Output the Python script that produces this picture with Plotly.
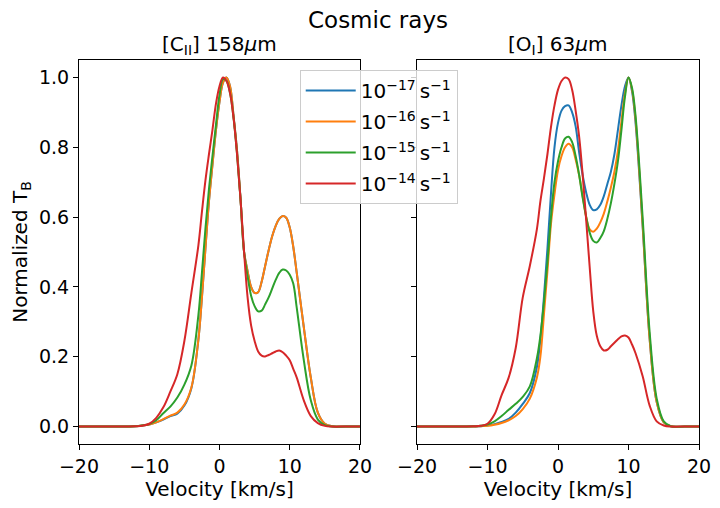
import plotly.graph_objects as go

# velocity grid (km/s)
velocity = [-20, -16, -14, -12, -11, -10, -9, -8, -7, -6, -5, -4,
            -3, -2.5, -2, -1.5, -1, -0.5, 0, 0.5, 1, 1.5, 2, 2.5, 3, 3.5, 4, 4.5, 5, 5.5,
            6, 6.5, 7, 7.5, 8, 8.5, 9, 9.5, 10, 10.5, 11,
            12, 13, 14, 15, 16, 18, 20]

labels = ["10<sup>−17</sup>\u2009s<sup>−1</sup>", "10<sup>−16</sup>\u2009s<sup>−1</sup>",
          "10<sup>−15</sup>\u2009s<sup>−1</sup>", "10<sup>−14</sup>\u2009s<sup>−1</sup>"]
colors = ["#1f77b4", "#ff7f0e", "#2ca02c", "#d62728"]

# [CII] 158um normalized profiles
cii_17 = [0, 0, 0, 0.001, 0.003, 0.006, 0.012, 0.02, 0.03, 0.037, 0.06, 0.11,
          0.25, 0.37, 0.51, 0.645, 0.75, 0.85, 0.93, 0.985, 1.0, 0.975, 0.89, 0.79, 0.65, 0.50,
          0.445, 0.40, 0.383, 0.385, 0.415, 0.46, 0.505, 0.545, 0.575, 0.595, 0.603, 0.598,
          0.57, 0.515, 0.44, 0.285, 0.14, 0.04, 0.008, 0.001, 0, 0]
cii_16 = [0, 0, 0, 0.001, 0.003, 0.006, 0.012, 0.021, 0.031, 0.04, 0.063, 0.112,
          0.25, 0.37, 0.51, 0.645, 0.75, 0.85, 0.93, 0.985, 1.0, 0.975, 0.89, 0.79, 0.65, 0.50,
          0.445, 0.40, 0.383, 0.385, 0.415, 0.46, 0.505, 0.545, 0.575, 0.595, 0.603, 0.598,
          0.57, 0.515, 0.44, 0.285, 0.14, 0.04, 0.008, 0.001, 0, 0]
cii_15 = [0, 0, 0, 0.001, 0.003, 0.007, 0.018, 0.038, 0.057, 0.083, 0.12, 0.175,
          0.32, 0.44, 0.567, 0.68, 0.775, 0.865, 0.95, 0.995, 0.99, 0.955, 0.885, 0.78, 0.65, 0.50,
          0.43, 0.375, 0.345, 0.33, 0.332, 0.35, 0.37, 0.395, 0.42, 0.44, 0.45, 0.447,
          0.435, 0.41, 0.34, 0.19, 0.075, 0.02, 0.004, 0, 0, 0]
cii_14 = [0, 0, 0, 0.001, 0.002, 0.008, 0.025, 0.055, 0.10, 0.15, 0.245, 0.383,
          0.52, 0.615, 0.705, 0.78, 0.85, 0.925, 0.975, 1.0, 0.99, 0.955, 0.885, 0.78, 0.65, 0.50,
          0.37, 0.29, 0.245, 0.215, 0.203, 0.201, 0.205, 0.21, 0.215, 0.218, 0.213, 0.203,
          0.19, 0.165, 0.14, 0.075, 0.03, 0.01, 0.002, 0, 0, 0]

# [OI] 63um normalized profiles
oi_17 = [0, 0, 0, 0, 0.001, 0.003, 0.007, 0.013, 0.022, 0.04, 0.065, 0.096,
         0.17, 0.25, 0.37, 0.51, 0.667, 0.80, 0.87, 0.905, 0.918, 0.92, 0.90, 0.86, 0.785, 0.72,
         0.67, 0.635, 0.62, 0.622, 0.635, 0.66, 0.695, 0.73, 0.78, 0.85, 0.92, 0.975,
         1.0, 0.96, 0.87, 0.575, 0.25, 0.07, 0.012, 0.001, 0, 0]
oi_16 = [0, 0, 0, 0, 0.001, 0.002, 0.005, 0.01, 0.018, 0.03, 0.05, 0.08,
         0.14, 0.20, 0.32, 0.445, 0.58, 0.665, 0.735, 0.775, 0.80, 0.81, 0.80, 0.765, 0.72, 0.66,
         0.60, 0.565, 0.558, 0.567, 0.585, 0.61, 0.645, 0.685, 0.73, 0.79, 0.875, 0.955,
         1.0, 0.965, 0.88, 0.58, 0.25, 0.07, 0.012, 0.001, 0, 0]
oi_15 = [0, 0, 0, 0.001, 0.002, 0.006, 0.015, 0.03, 0.048, 0.065, 0.085, 0.115,
         0.195, 0.26, 0.355, 0.47, 0.60, 0.70, 0.76, 0.80, 0.825, 0.83, 0.815, 0.775, 0.72, 0.655,
         0.60, 0.555, 0.532, 0.527, 0.54, 0.56, 0.595, 0.64, 0.695, 0.76, 0.85, 0.945,
         1.0, 0.97, 0.89, 0.60, 0.27, 0.08, 0.015, 0.001, 0, 0]
oi_14 = [0, 0, 0, 0.001, 0.002, 0.008, 0.035, 0.09, 0.14, 0.225, 0.37, 0.46,
         0.565, 0.645, 0.71, 0.78, 0.858, 0.92, 0.965, 0.99, 1.0, 0.995, 0.965, 0.905, 0.83, 0.72,
         0.59, 0.455, 0.33, 0.26, 0.23, 0.218, 0.22, 0.23, 0.24, 0.25, 0.258, 0.261,
         0.255, 0.235, 0.21, 0.145, 0.06, 0.015, 0.003, 0, 0, 0]

cii = [cii_17, cii_16, cii_15, cii_14]
oi = [oi_17, oi_16, oi_15, oi_14]

font = "DejaVu Sans"
fig = go.Figure()

for i in range(4):
    fig.add_trace(go.Scatter(x=velocity, y=cii[i], mode="lines", name=labels[i],
                             line=dict(color=colors[i], width=2, shape="spline", smoothing=1.0),
                             legendgroup=str(i), xaxis="x", yaxis="y"))
for i in range(4):
    fig.add_trace(go.Scatter(x=velocity, y=oi[i], mode="lines", name=labels[i],
                             line=dict(color=colors[i], width=2, shape="spline", smoothing=1.0),
                             legendgroup=str(i), showlegend=False, xaxis="x2", yaxis="y2"))

axis_style = dict(showline=True, linecolor="black", linewidth=1, mirror=True, ticks="outside",
                  ticklen=5, tickcolor="black", showgrid=False, zeroline=False, automargin=False,
                  tickfont=dict(size=19, color="black"))

# plot area: left panel 79-360 px, right panel 417-699 px, top 60, bottom 444
# (page body adds an 8px offset, so margins are shifted by 8)
fig.update_layout(
    width=720, height=508,
    margin=dict(l=71, r=29, t=52, b=72, autoexpand=False),
    plot_bgcolor="white", paper_bgcolor="white",
    font=dict(family=font, color="black"),
    xaxis=dict(domain=[0, 0.4532], range=[-20, 20], tickvals=[-20, -10, 0, 10, 20],
               title=dict(text="Velocity [km/s]", font=dict(size=20), standoff=6), anchor="y", **axis_style),
    yaxis=dict(domain=[0, 1], range=[-0.05, 1.05], tickvals=[0, 0.2, 0.4, 0.6, 0.8, 1.0],
               tickformat=".1f", title=dict(text="Normalized T<sub>B</sub>", font=dict(size=20), standoff=10),
               anchor="x", **axis_style),
    xaxis2=dict(domain=[0.5452, 1], range=[-20, 20], tickvals=[-20, -10, 0, 10, 20],
                title=dict(text="Velocity [km/s]", font=dict(size=20), standoff=6), anchor="y2", **axis_style),
    yaxis2=dict(domain=[0, 1], range=[-0.05, 1.05], tickvals=[0, 0.2, 0.4, 0.6, 0.8, 1.0],
                showticklabels=False, anchor="x2", **axis_style),
    legend=dict(x=0.356, y=0.974, xanchor="left", yanchor="top", bgcolor="rgba(255,255,255,0.8)",
                bordercolor="#cccccc", borderwidth=1, font=dict(size=20), tracegroupgap=2,
                itemwidth=50),
    showlegend=True,
    annotations=[
        dict(text="Cosmic rays", x=0.482, y=(444 - 20) / 384, xref="paper", yref="paper",
             showarrow=False, font=dict(size=23), xanchor="center", yanchor="middle"),
        dict(text="[C<sub>II</sub>] 158<i>μ</i>m", x=0.227, y=(444 - 45) / 384, xref="paper", yref="paper",
             showarrow=False, font=dict(size=20), xanchor="center", yanchor="middle"),
        dict(text="[O<sub>I</sub>] 63<i>μ</i>m", x=0.773, y=(444 - 45) / 384, xref="paper", yref="paper",
             showarrow=False, font=dict(size=20), xanchor="center", yanchor="middle"),
    ],
)

fig.write_html("out.html")
